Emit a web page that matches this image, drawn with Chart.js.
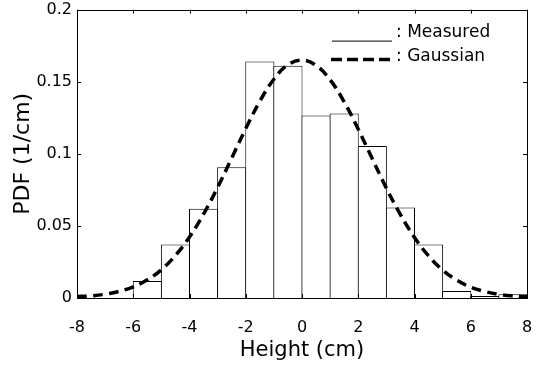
<!DOCTYPE html>
<html>
<head>
<meta charset="utf-8">
<script src="https://cdn.jsdelivr.net/npm/chart.js@4.4.0/dist/chart.umd.min.js"></script>
<style>
  html, body { margin: 0; padding: 0; background: #fff; }
  #wrap { width: 546px; height: 369px; }
</style>
</head>
<body>
<div id="wrap"><canvas id="pdfChart"></canvas></div>
<script>
// Histogram bins (1 cm wide), centres and measured PDF
const binCentres = [-7.5, -6.5, -5.5, -4.5, -3.5, -2.5, -1.5, -0.5, 0.5, 1.5, 2.5, 3.5, 4.5, 5.5, 6.5, 7.5];
const measuredPdf = [0, 0, 0.0118, 0.0371, 0.0619, 0.0906, 0.164, 0.161, 0.1265, 0.128, 0.1054, 0.0628, 0.0371, 0.0049, 0.0014, 0.0026];

// Fitted gaussian, sampled every 0.5 cm
const fitHeights = [-8, -7.5, -7, -6.5, -6, -5.5, -5, -4.5, -4, -3.5, -3, -2.5, -2, -1.5, -1, -0.5,
                    0, 0.5, 1, 1.5, 2, 2.5, 3, 3.5, 4, 4.5, 5, 5.5, 6, 6.5, 7, 7.5, 8];
const fitPdf = [0.001, 0.0015, 0.0026, 0.0046, 0.0077, 0.0126, 0.0196, 0.0295, 0.0423, 0.0582, 0.0767, 0.097, 0.1175, 0.1364, 0.1517, 0.1617,
                0.165, 0.1613, 0.1513, 0.136, 0.117, 0.0965, 0.0762, 0.0578, 0.042, 0.0292, 0.0194, 0.0124, 0.0075, 0.0045, 0.0025, 0.0014, 0.0008];

const xTicks = [-8, -6, -4, -2, 0, 2, 4, 6, 8];
const yTicks = [0, 0.05, 0.1, 0.15, 0.2];

const FONT = '"DejaVu Sans", Verdana, sans-serif';

// Box around the plot with inward tick marks, plus the small legend
const framePlugin = {
    id: 'frame',
    afterDraw(chart) {
        const { ctx, chartArea: a, scales } = chart;
        const len = 4;
        ctx.save();
        ctx.strokeStyle = '#000';
        ctx.lineWidth = 1;
        ctx.strokeRect(Math.round(a.left) + 0.5, Math.round(a.top) + 0.5,
                       Math.round(a.right - a.left), Math.round(a.bottom - a.top));
        ctx.beginPath();
        xTicks.forEach(v => {
            const px = Math.round(scales.x.getPixelForValue(v)) + 0.5;
            ctx.moveTo(px, a.bottom); ctx.lineTo(px, a.bottom - len);
            ctx.moveTo(px, a.top); ctx.lineTo(px, a.top + len);
        });
        yTicks.forEach(v => {
            const py = Math.round(scales.y.getPixelForValue(v)) + 0.5;
            ctx.moveTo(a.left, py); ctx.lineTo(a.left + len, py);
            ctx.moveTo(a.right, py); ctx.lineTo(a.right - len, py);
        });
        ctx.stroke();

        // legend
        const lx = a.right - 195, tx = a.right - 131;
        ctx.beginPath();
        ctx.moveTo(lx, a.top + 31.5); ctx.lineTo(lx + 60, a.top + 31.5);
        ctx.stroke();
        ctx.lineWidth = 3.5;
        ctx.setLineDash([11, 5]);
        ctx.beginPath();
        ctx.moveTo(lx - 1, a.top + 50); ctx.lineTo(lx + 63, a.top + 50);
        ctx.stroke();
        ctx.setLineDash([]);
        ctx.fillStyle = '#000';
        ctx.font = '17px ' + FONT;
        ctx.textBaseline = 'middle';
        ctx.textAlign = 'left';
        ctx.fillText(': Measured', tx, a.top + 23);
        ctx.fillText(': Gaussian', tx, a.top + 47);
        ctx.restore();
    }
};

new Chart(document.getElementById('pdfChart'), {
    data: {
        datasets: [{
            type: 'line',
            label: 'Gaussian',
            data: fitHeights.map((h, i) => ({ x: h, y: fitPdf[i] })),
            borderColor: '#000',
            borderWidth: 3.5,
            borderDash: [10, 6],
            pointRadius: 0,
            tension: 0.4,
            fill: false,
            order: 0
        }, {
            type: 'bar',
            label: 'Measured',
            data: binCentres.map((c, i) => ({ x: c, y: measuredPdf[i] })),
            backgroundColor: '#fff',
            borderColor: '#000',
            borderWidth: { left: 1, top: 1, right: 1, bottom: 0 },
            borderSkipped: false,
            // slightly wider than the bin so neighbouring edges share one pixel
            barPercentage: 1.035,
            categoryPercentage: 1,
            order: 1
        }]
    },
    options: {
        responsive: true,
        maintainAspectRatio: false,
        animation: false,
        layout: { padding: { top: 0, right: 19, bottom: 0, left: 0 } },
        plugins: {
            legend: { display: false },
            tooltip: { enabled: false }
        },
        scales: {
            x: {
                type: 'linear',
                offset: false,
                min: -8,
                max: 8,
                afterBuildTicks: s => { s.ticks = xTicks.map(v => ({ value: v })); },
                afterFit: s => { s.height = 71; },
                // tick marks are drawn by the frame plugin; tickLength only spaces the labels
                grid: { display: false, drawTicks: true, tickLength: 20 },
                border: { display: false },
                ticks: { color: '#000', padding: 0, font: { family: FONT, size: 16 } },
                title: {
                    display: true,
                    text: 'Height (cm)',
                    color: '#000',
                    font: { family: FONT, size: 21 },
                    padding: { top: 0, bottom: 6 }
                }
            },
            y: {
                min: 0,
                max: 0.2,
                afterBuildTicks: s => { s.ticks = yTicks.map(v => ({ value: v })); },
                afterFit: s => { s.width = 77; },
                grid: { display: false, drawTicks: true, tickLength: 5 },
                border: { display: false },
                ticks: {
                    color: '#000',
                    padding: 0,
                    font: { family: FONT, size: 16 },
                    callback: v => String(+v.toFixed(2))
                },
                title: {
                    display: true,
                    text: 'PDF (1/cm)',
                    color: '#000',
                    font: { family: FONT, size: 22 },
                    padding: { top: 10, bottom: 0 }
                }
            }
        }
    },
    plugins: [framePlugin]
});
</script>
</body>
</html>
